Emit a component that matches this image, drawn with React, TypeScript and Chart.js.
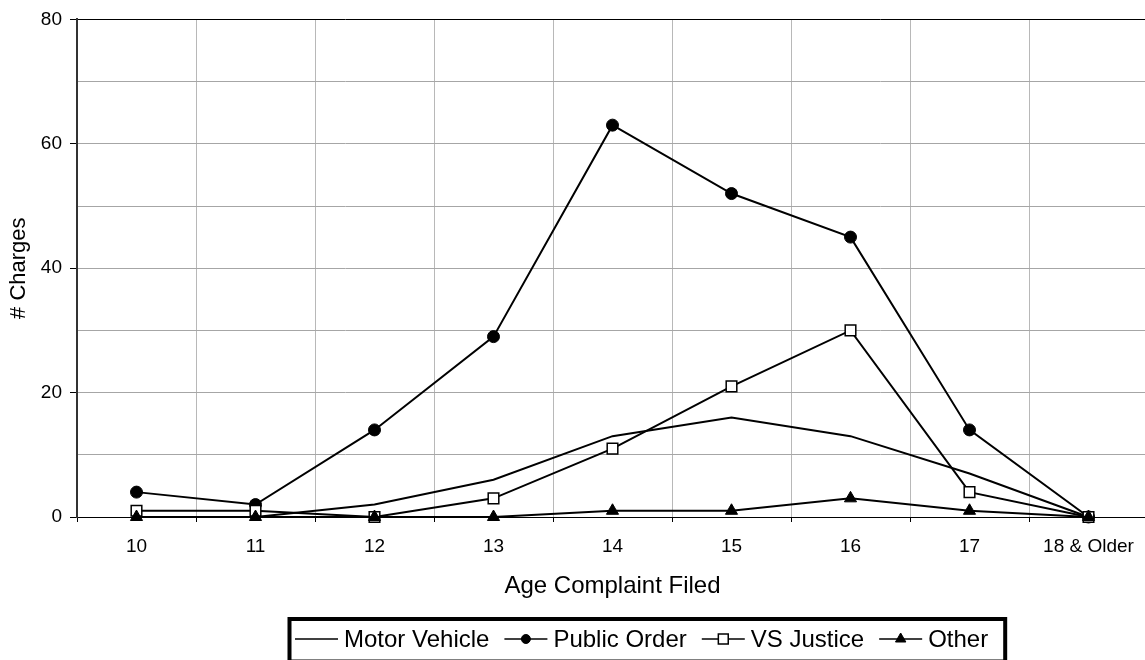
import React, { useEffect, useRef } from 'react';
import { Chart, registerables } from 'chart.js';
import { drawPoint } from 'chart.js/helpers';

Chart.register(...registerables);

const categories = ['10', '11', '12', '13', '14', '15', '16', '17', '18 & Older'];
const motorVehicle = [0, 0, 2, 6, 13, 16, 13, 7, 0];
const publicOrder = [4, 2, 14, 29, 63, 52, 45, 14, 0];
const vsJustice = [1, 1, 0, 3, 11, 21, 30, 4, 0];
const other = [0, 0, 0, 0, 1, 1, 3, 1, 0];
const seriesNames = ['Motor Vehicle', 'Public Order', 'VS Justice', 'Other'];

const FONT = '"Liberation Sans", Arial, Helvetica, sans-serif';
const legendRadius: Record<string, number> = { circle: 4.5, rect: 7, triangle: 6 };

const boxLegend = {
  id: 'boxLegend',
  afterDraw(chart: any) {
    const ctx: CanvasRenderingContext2D = chart.ctx;
    ctx.save();
    ctx.font = `24px ${FONT}`;
    ctx.textBaseline = 'alphabetic';
    ctx.textAlign = 'left';
    const lineY = 639;
    const textY = 647;
    let x = 295;
    chart.data.datasets.forEach((ds: any) => {
      ctx.strokeStyle = '#000';
      ctx.lineWidth = 1.5;
      ctx.beginPath();
      ctx.moveTo(x, lineY);
      ctx.lineTo(x + 43, lineY);
      ctx.stroke();
      if (ds.pointRadius > 0) {
        ctx.fillStyle = ds.pointBackgroundColor;
        ctx.strokeStyle = ds.pointBorderColor;
        ctx.lineWidth = ds.pointBorderWidth;
        drawPoint(ctx, {
          pointStyle: ds.pointStyle,
          radius: legendRadius[ds.pointStyle] || 5,
          rotation: 0,
          borderWidth: ds.pointBorderWidth,
        } as any, x + 21.5, lineY);
      }
      x += 43 + 6;
      ctx.fillStyle = '#000';
      ctx.fillText(ds.label, x, textY);
      x += ctx.measureText(ds.label).width + 15;
    });
    ctx.lineWidth = 4;
    ctx.strokeStyle = '#000';
    const left = 289.5;
    const right = x - 15 + 17;
    ctx.strokeRect(left, 619, right - left, 661.5 - 619);
    ctx.restore();
  },
};

export default function App() {
  const ref = useRef<HTMLCanvasElement>(null);
  useEffect(() => {
    if (!ref.current) return;
    Chart.defaults.font.family = FONT;
    Chart.defaults.color = '#000';
    const chart = new Chart(ref.current, {
      type: 'line',
      data: {
        labels: categories,
        datasets: [
          {
            label: seriesNames[0],
            data: motorVehicle,
            borderColor: '#000',
            borderWidth: 2,
            pointRadius: 0,
            pointHoverRadius: 0,
            pointStyle: 'circle',
            pointBackgroundColor: '#000',
            pointBorderColor: '#000',
            pointBorderWidth: 0,
            tension: 0,
            fill: false,
            clip: false as any,
            order: 3,
          },
          {
            label: seriesNames[1],
            data: publicOrder,
            borderColor: '#000',
            borderWidth: 2,
            pointRadius: 6,
            pointStyle: 'circle',
            pointBackgroundColor: '#000',
            pointBorderColor: '#000',
            pointBorderWidth: 1,
            tension: 0,
            fill: false,
            clip: false as any,
            order: 2,
          },
          {
            label: seriesNames[2],
            data: vsJustice,
            borderColor: '#000',
            borderWidth: 2,
            pointRadius: 7.5,
            pointStyle: 'rect',
            pointBackgroundColor: '#fff',
            pointBorderColor: '#000',
            pointBorderWidth: 1.5,
            tension: 0,
            fill: false,
            clip: false as any,
            order: 1,
          },
          {
            label: seriesNames[3],
            data: other,
            borderColor: '#000',
            borderWidth: 2,
            pointRadius: 7,
            pointStyle: 'triangle',
            pointBackgroundColor: '#000',
            pointBorderColor: '#000',
            pointBorderWidth: 1,
            tension: 0,
            fill: false,
            clip: false as any,
            order: 0,
          },
        ],
      },
      options: {
        animation: false,
        responsive: false,
        devicePixelRatio: 1,
        layout: { padding: { top: 19, right: 12, left: 0, bottom: 0 } },
        plugins: {
          legend: { display: false },
          tooltip: { enabled: false },
        },
        events: [],
        scales: {
          x: {
            type: 'category',
            offset: true,
            afterFit: (scale: any) => {
              scale.height = 183;
            },
            grid: {
              offset: true,
              color: '#b8b8b8',
              lineWidth: 1,
              tickLength: 5,
              tickColor: '#000',
              tickWidth: 1,
            },
            border: { color: '#000', width: 1 },
            ticks: {
              font: { size: 19 },
              color: '#000',
              padding: 13,
              maxRotation: 0,
              autoSkip: false,
            },
            title: {
              display: true,
              text: 'Age Complaint Filed',
              font: { size: 24 },
              color: '#000',
              padding: { top: 0, bottom: 99 },
            },
          },
          y: {
            type: 'linear',
            min: 0,
            max: 80,
            afterFit: (scale: any) => {
              scale.width = 77;
            },
            grid: {
              color: (c: any) => (c.tick && (c.tick.value === 80 || c.tick.value === 0) ? '#000' : '#a6a6a6'),
              lineWidth: 1,
              tickLength: 7,
              tickColor: (c: any) => (c.tick && c.tick.value % 20 === 0 ? '#000' : 'rgba(0,0,0,0)'),
              tickWidth: 1,
            },
            border: { color: '#333', width: 2 },
            ticks: {
              stepSize: 10,
              font: { size: 19 },
              color: '#000',
              padding: 8,
              callback: (v: any) => (Number(v) % 20 === 0 ? String(v) : ''),
            },
            title: {
              display: true,
              text: '# Charges',
              font: { size: 22 },
              color: '#000',
              padding: { top: 6, bottom: 0 },
            },
          },
        },
      },
      plugins: [boxLegend],
    });
    return () => chart.destroy();
  }, []);

  return (
    <div style={{ position: 'fixed', left: 0, top: 0, width: 1160, height: 700, overflow: 'hidden', background: '#fff' }}>
      <canvas ref={ref} width={1160} height={700} style={{ width: 1160, height: 700, display: 'block' }} />
    </div>
  );
}
